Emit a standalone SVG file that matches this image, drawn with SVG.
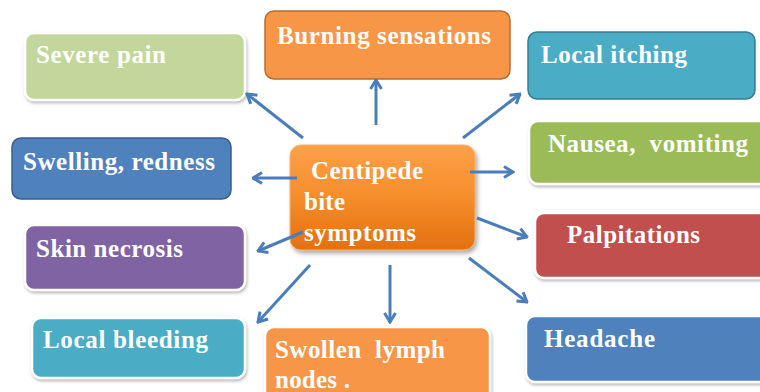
<svg xmlns="http://www.w3.org/2000/svg" width="760" height="392" viewBox="0 0 760 392">
<style>
.t{font-family:"Liberation Serif","Times New Roman",serif;font-weight:bold;font-size:25px;fill:#ffffff}
.w{stroke:#ffffff;stroke-width:2.5;filter:url(#sh)}
.c{fill:none;stroke:#4a7ebb;stroke-width:3;marker-end:url(#ah)}
</style>
<defs>
<filter id="sh" x="-10%" y="-10%" width="120%" height="130%">
<feDropShadow dx="1" dy="2" stdDeviation="1.5" flood-color="#7f7f7f" flood-opacity="0.55"/>
</filter>
<filter id="sh2" x="-10%" y="-10%" width="125%" height="130%">
<feDropShadow dx="2" dy="3" stdDeviation="2" flood-color="#5a5a5a" flood-opacity="0.5"/>
</filter>
<linearGradient id="og" x1="0" y1="0" x2="0" y2="1">
<stop offset="0" stop-color="#fca149"/>
<stop offset="0.5" stop-color="#f68d2a"/>
<stop offset="1" stop-color="#e2700f"/>
</linearGradient>
<marker id="ah" viewBox="0 0 12 14" refX="10.5" refY="7" markerWidth="12" markerHeight="14" markerUnits="userSpaceOnUse" orient="auto">
<path d="M1.5,1.5 L10.5,7 L1.5,12.5" fill="none" stroke="#4a7ebb" stroke-width="3"/>
</marker>
</defs>
<rect width="760" height="392" fill="#ffffff"/>
<g id="n-severe-pain"><rect x="25" y="33" width="220" height="67" rx="9" fill="#c3d69b" class="w"/><text class="t" x="36" y="63" textLength="130">Severe pain</text></g>
<g id="n-burning"><rect x="265" y="11" width="245" height="68" rx="9" fill="#f79646" stroke="#b66d31" stroke-width="1.5"/><text class="t" x="277" y="44" textLength="214">Burning sensations</text></g>
<g id="n-local-itching"><rect x="528" y="32" width="227" height="67" rx="9" fill="#4bacc6" stroke="#357d91" stroke-width="1.5"/><text class="t" x="541" y="63" textLength="146">Local itching</text></g>
<g id="n-nausea"><rect x="529" y="121" width="240" height="63" rx="9" fill="#9bbb59" class="w"/><text class="t" x="548" y="152" textLength="200" xml:space="preserve">Nausea,  vomiting</text></g>
<g id="n-swelling"><rect x="12" y="138" width="219" height="61" rx="9" fill="#4f81bd" stroke="#385d8a" stroke-width="1.5"/><text class="t" x="23" y="170" textLength="192">Swelling, redness</text></g>
<g id="n-center"><rect x="290" y="145" width="185" height="105" rx="11" fill="url(#og)" stroke="#fbb46a" stroke-width="1" filter="url(#sh2)"/><text class="t" x="311" y="179" textLength="112">Centipede</text><text class="t" x="304" y="210" textLength="41">bite</text><text class="t" x="304" y="241" textLength="112">symptoms</text></g>
<g id="n-skin-necrosis"><rect x="25" y="225" width="220" height="65" rx="9" fill="#8064a2" class="w"/><text class="t" x="36" y="257" textLength="147">Skin necrosis</text></g>
<g id="n-local-bleeding"><rect x="32" y="318" width="213" height="60" rx="9" fill="#4bacc6" class="w"/><text class="t" x="43" y="348" textLength="165">Local bleeding</text></g>
<g id="n-swollen"><rect x="265" y="327" width="225" height="75" rx="9" fill="#f79646" class="w"/><text class="t" x="275" y="358" textLength="170" xml:space="preserve">Swollen  lymph</text><text class="t" x="275" y="388" textLength="75">nodes .</text></g>
<g id="n-palpitations"><rect x="535" y="213" width="235" height="65" rx="9" fill="#c0504d" class="w"/><text class="t" x="567" y="243" textLength="133">Palpitations</text></g>
<g id="n-headache"><rect x="526" y="316" width="244" height="66" rx="9" fill="#4f81bd" class="w"/><text class="t" x="544" y="347" textLength="111">Headache</text></g>
<g id="connectors">
<line class="c" x1="303" y1="138" x2="247" y2="94"/>
<line class="c" x1="376" y1="125" x2="376" y2="80"/>
<line class="c" x1="463" y1="138" x2="520" y2="94"/>
<line class="c" x1="470" y1="172" x2="513" y2="172"/>
<line class="c" x1="297" y1="178" x2="253" y2="178"/>
<line class="c" x1="303" y1="232" x2="258" y2="251"/>
<line class="c" x1="310" y1="265" x2="258" y2="322"/>
<line class="c" x1="390" y1="265" x2="390" y2="322"/>
<line class="c" x1="477" y1="218" x2="527" y2="237"/>
<line class="c" x1="469" y1="258" x2="527" y2="302"/>
</g>
</svg>
